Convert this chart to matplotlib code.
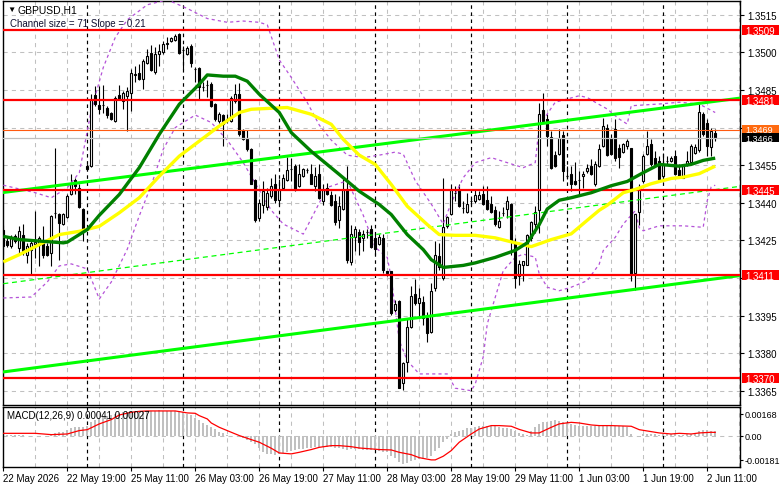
import numpy as np
import matplotlib.pyplot as plt
import matplotlib.transforms as mtransforms
from matplotlib.patches import Rectangle

plt.rcParams['font.family'] = ['Liberation Sans', 'DejaVu Sans']

# ---- H1 candles, bar 0 = 22 May 2026 03:00 ----
open_ = [1.34293, 1.34246, 1.34226, 1.34266, 1.34220, 1.34273, 1.34193, 1.34213, 1.34235, 1.34233,
         1.34240, 1.34226, 1.34200, 1.34358, 1.34356, 1.34316, 1.34342, 1.34433, 1.34489, 1.34460,
         1.34377, 1.34548, 1.34546, 1.34829, 1.34789, 1.34789, 1.34777, 1.34760, 1.34726, 1.34829,
         1.34806, 1.34826, 1.34836, 1.34909, 1.34916, 1.34893, 1.34956, 1.34996, 1.34920, 1.34993,
         1.35000, 1.35035, 1.35046, 1.35049, 1.35073, 1.35009, 1.34993, 1.35026, 1.34933, 1.34936,
         1.34860, 1.34869, 1.34873, 1.34796, 1.34726, 1.34750, 1.34733, 1.34726, 1.34806, 1.34833,
         1.34689, 1.34653, 1.34613, 1.34489, 1.34340, 1.34393, 1.34382, 1.34426, 1.34473, 1.34409,
         1.34457, 1.34489, 1.34533, 1.34546, 1.34466, 1.34506, 1.34530, 1.34516, 1.34466, 1.34516,
         1.34406, 1.34460, 1.34429, 1.34406, 1.34333, 1.34377, 1.34453, 1.34164, 1.34262, 1.34284,
         1.34260, 1.34284, 1.34297, 1.34260, 1.34236, 1.34260, 1.34126, 1.34126, 1.33973, 1.34009,
         1.33680, 1.33764, 1.33906, 1.34036, 1.34000, 1.34004, 1.33940, 1.33884, 1.34060, 1.34186,
         1.34100, 1.34306, 1.34356, 1.34440, 1.34449, 1.34380, 1.34364, 1.34406, 1.34406, 1.34413,
         1.34436, 1.34409, 1.34396, 1.34373, 1.34302, 1.34360, 1.34377, 1.34396, 1.34240, 1.34106,
         1.34153, 1.34153, 1.34260, 1.34316, 1.34373, 1.34769, 1.34736, 1.34662, 1.34590, 1.34593,
         1.34669, 1.34506, 1.34513, 1.34486, 1.34489, 1.34506, 1.34526, 1.34546, 1.34473, 1.34546,
         1.34626, 1.34697, 1.34660, 1.34693, 1.34617, 1.34604, 1.34626, 1.34617, 1.34120, 1.34364,
         1.34486, 1.34596, 1.34636, 1.34577, 1.34566, 1.34506, 1.34566, 1.34566, 1.34586, 1.34532,
         1.34500, 1.34550, 1.34564, 1.34600, 1.34609, 1.34753, 1.34719, 1.34622, 1.34680]
high = [1.34313, 1.34260, 1.34273, 1.34276, 1.34306, 1.34316, 1.34240, 1.34253, 1.34366, 1.34266,
        1.34306, 1.34240, 1.34353, 1.34617, 1.34360, 1.34360, 1.34433, 1.34516, 1.34497, 1.34473,
        1.34380, 1.34553, 1.34833, 1.34866, 1.34866, 1.34870, 1.34786, 1.34764, 1.34826, 1.34869,
        1.34846, 1.34860, 1.34933, 1.34946, 1.34953, 1.34973, 1.35013, 1.35030, 1.35020, 1.35033,
        1.35046, 1.35062, 1.35062, 1.35073, 1.35076, 1.35026, 1.35026, 1.35033, 1.34940, 1.34940,
        1.34880, 1.34889, 1.34880, 1.34800, 1.34764, 1.34756, 1.34753, 1.34826, 1.34873, 1.34876,
        1.34693, 1.34689, 1.34617, 1.34493, 1.34413, 1.34486, 1.34460, 1.34500, 1.34513, 1.34493,
        1.34513, 1.34582, 1.34580, 1.34553, 1.34553, 1.34540, 1.34540, 1.34553, 1.34542, 1.34553,
        1.34473, 1.34480, 1.34446, 1.34433, 1.34426, 1.34493, 1.34546, 1.34313, 1.34306, 1.34297,
        1.34293, 1.34297, 1.34313, 1.34280, 1.34276, 1.34276, 1.34126, 1.34129, 1.34013, 1.34013,
        1.33764, 1.33942, 1.34066, 1.34097, 1.34060, 1.34026, 1.33966, 1.34080, 1.34246, 1.34240,
        1.34497, 1.34346, 1.34473, 1.34466, 1.34473, 1.34406, 1.34440, 1.34420, 1.34453, 1.34446,
        1.34466, 1.34466, 1.34426, 1.34386, 1.34366, 1.34382, 1.34426, 1.34400, 1.34260, 1.34173,
        1.34169, 1.34276, 1.34326, 1.34386, 1.34800, 1.34836, 1.34756, 1.34686, 1.34606, 1.34693,
        1.34686, 1.34546, 1.34546, 1.34564, 1.34526, 1.34526, 1.34553, 1.34573, 1.34566, 1.34633,
        1.34740, 1.34713, 1.34673, 1.34733, 1.34633, 1.34640, 1.34653, 1.34620, 1.34356, 1.34473,
        1.34593, 1.34686, 1.34653, 1.34606, 1.34586, 1.34600, 1.34586, 1.34586, 1.34609, 1.34553,
        1.34553, 1.34606, 1.34633, 1.34633, 1.34796, 1.34764, 1.34733, 1.34700, 1.34693]
low = [1.34193, 1.34222, 1.34220, 1.34240, 1.34193, 1.34193, 1.34160, 1.34113, 1.34180, 1.34146,
       1.34180, 1.34186, 1.34146, 1.34340, 1.34173, 1.34313, 1.34340, 1.34430, 1.34433, 1.34380,
       1.34246, 1.34532, 1.34542, 1.34786, 1.34753, 1.34760, 1.34740, 1.34729, 1.34724, 1.34809,
       1.34773, 1.34686, 1.34766, 1.34880, 1.34889, 1.34853, 1.34953, 1.34926, 1.34913, 1.34946,
       1.34993, 1.35013, 1.35040, 1.35046, 1.34993, 1.34933, 1.34990, 1.34940, 1.34880, 1.34809,
       1.34846, 1.34820, 1.34782, 1.34726, 1.34720, 1.34626, 1.34720, 1.34724, 1.34800, 1.34666,
       1.34649, 1.34606, 1.34473, 1.34324, 1.34326, 1.34360, 1.34373, 1.34420, 1.34400, 1.34393,
       1.34453, 1.34486, 1.34486, 1.34446, 1.34462, 1.34502, 1.34520, 1.34473, 1.34446, 1.34413,
       1.34393, 1.34430, 1.34386, 1.34313, 1.34300, 1.34373, 1.34160, 1.34153, 1.34206, 1.34193,
       1.34206, 1.34260, 1.34220, 1.34193, 1.34233, 1.34120, 1.34106, 1.33953, 1.33966, 1.33660,
       1.33653, 1.33726, 1.33900, 1.33993, 1.33940, 1.33913, 1.33846, 1.33880, 1.34046, 1.34133,
       1.34093, 1.34300, 1.34353, 1.34406, 1.34382, 1.34360, 1.34360, 1.34393, 1.34400, 1.34409,
       1.34393, 1.34373, 1.34360, 1.34306, 1.34300, 1.34346, 1.34340, 1.34193, 1.34060, 1.34073,
       1.34086, 1.34150, 1.34246, 1.34280, 1.34280, 1.34724, 1.34626, 1.34533, 1.34542, 1.34590,
       1.34486, 1.34493, 1.34446, 1.34470, 1.34433, 1.34460, 1.34520, 1.34510, 1.34466, 1.34542,
       1.34622, 1.34586, 1.34590, 1.34566, 1.34540, 1.34600, 1.34613, 1.34086, 1.34053, 1.34313,
       1.34480, 1.34590, 1.34546, 1.34546, 1.34486, 1.34500, 1.34553, 1.34564, 1.34510, 1.34502,
       1.34497, 1.34546, 1.34560, 1.34596, 1.34604, 1.34666, 1.34586, 1.34586, 1.34646]
close = [1.34226, 1.34233, 1.34260, 1.34246, 1.34286, 1.34206, 1.34226, 1.34240, 1.34245, 1.34260,
         1.34193, 1.34193, 1.34346, 1.34360, 1.34320, 1.34356, 1.34426, 1.34473, 1.34466, 1.34382,
         1.34293, 1.34534, 1.34813, 1.34793, 1.34773, 1.34789, 1.34750, 1.34733, 1.34817, 1.34813,
         1.34836, 1.34846, 1.34916, 1.34912, 1.34893, 1.34966, 1.34986, 1.34929, 1.34993, 1.35006,
         1.35033, 1.35036, 1.35057, 1.35066, 1.34996, 1.35009, 1.35017, 1.34956, 1.34933, 1.34860,
         1.34860, 1.34869, 1.34786, 1.34733, 1.34756, 1.34713, 1.34733, 1.34817, 1.34833, 1.34673,
         1.34653, 1.34613, 1.34476, 1.34333, 1.34400, 1.34446, 1.34440, 1.34466, 1.34409, 1.34449,
         1.34497, 1.34529, 1.34533, 1.34453, 1.34516, 1.34533, 1.34530, 1.34476, 1.34506, 1.34417,
         1.34449, 1.34436, 1.34393, 1.34324, 1.34386, 1.34449, 1.34173, 1.34276, 1.34297, 1.34244,
         1.34276, 1.34284, 1.34222, 1.34217, 1.34262, 1.34133, 1.34120, 1.33960, 1.33996, 1.33662,
         1.33760, 1.33906, 1.34026, 1.34000, 1.34020, 1.33942, 1.33880, 1.34046, 1.34193, 1.34142,
         1.34302, 1.34342, 1.34449, 1.34440, 1.34386, 1.34380, 1.34396, 1.34406, 1.34430, 1.34430,
         1.34396, 1.34377, 1.34364, 1.34316, 1.34329, 1.34360, 1.34406, 1.34246, 1.34100, 1.34156,
         1.34166, 1.34273, 1.34324, 1.34364, 1.34756, 1.34726, 1.34666, 1.34537, 1.34546, 1.34657,
         1.34526, 1.34506, 1.34476, 1.34473, 1.34489, 1.34516, 1.34537, 1.34513, 1.34556, 1.34613,
         1.34706, 1.34590, 1.34593, 1.34577, 1.34582, 1.34636, 1.34646, 1.34116, 1.34356, 1.34462,
         1.34586, 1.34626, 1.34553, 1.34553, 1.34493, 1.34553, 1.34566, 1.34577, 1.34513, 1.34506,
         1.34546, 1.34566, 1.34626, 1.34622, 1.34764, 1.34673, 1.34626, 1.34686, 1.34660]

# moving averages (bar index, price)
ma_green_bars = [0, 4, 10, 15, 16, 19, 21, 24, 29, 34, 39, 44, 49, 51, 55, 58, 61, 64, 69, 72, 77, 84,
                 89, 94, 97, 101, 105, 107, 110, 115, 118, 123, 128, 131, 134, 136, 139, 142, 147,
                 152, 156, 160, 164, 169, 172, 175, 178]
ma_green = [1.34266, 1.34253, 1.34246, 1.34240, 1.34243, 1.34273, 1.34293, 1.34350, 1.34433, 1.34540,
            1.34673, 1.34793, 1.34873, 1.34910, 1.34905, 1.34905, 1.34885, 1.34833, 1.34760, 1.34680,
            1.34605, 1.34513, 1.34446, 1.34393, 1.34353, 1.34273, 1.34213, 1.34173, 1.34142, 1.34150,
            1.34160, 1.34182, 1.34210, 1.34240, 1.34313, 1.34375, 1.34410, 1.34420, 1.34440, 1.34468,
            1.34485, 1.34520, 1.34553, 1.34546, 1.34553, 1.34569, 1.34578]
ma_yellow_bars = [0, 4, 9, 14, 19, 24, 29, 34, 39, 44, 49, 54, 59, 62, 67, 71, 77, 82, 85, 89, 93,
                  97, 101, 106, 109, 113, 118, 123, 128, 132, 137, 142, 146, 149, 151, 155, 158, 162,
                  167, 170, 174, 178]
ma_yellow = [1.34164, 1.34193, 1.34233, 1.34273, 1.34286, 1.34306, 1.34360, 1.34420, 1.34506, 1.34586,
             1.34646, 1.34706, 1.34760, 1.34773, 1.34777, 1.34780, 1.34753, 1.34713, 1.34653, 1.34590,
             1.34553, 1.34473, 1.34386, 1.34313, 1.34273, 1.34270, 1.34270, 1.34260, 1.34240, 1.34225,
             1.34253, 1.34276, 1.34330, 1.34370, 1.34390, 1.34440, 1.34453, 1.34476, 1.34497, 1.34502,
             1.34516, 1.34546]

# bands (purple dotted)
band_up_bars = [0, 4, 8, 12, 16, 19, 22, 25, 28, 31, 36, 41, 46, 51, 56, 60, 64, 66, 69, 72, 76, 79,
                82, 86, 90, 94, 98, 100, 103, 107, 110, 112, 115, 118, 122, 126, 130, 133, 134, 138,
                141, 144, 146, 148, 151, 154, 156, 157, 164, 169, 174, 178]
band_up = [1.34470, 1.34455, 1.34440, 1.34420, 1.34460, 1.34520, 1.34770, 1.34940, 1.35060, 1.35130,
           1.35190, 1.35210, 1.35175, 1.35135, 1.35120, 1.35125, 1.35120, 1.35110, 1.34970, 1.34900,
           1.34800, 1.34710, 1.34650, 1.34590, 1.34580, 1.34590, 1.34602, 1.34594, 1.34488, 1.34395,
           1.34315, 1.34400, 1.34500, 1.34560, 1.34580, 1.34560, 1.34540, 1.34560, 1.34707, 1.34801,
           1.34814, 1.34827, 1.34820, 1.34801, 1.34774, 1.34734, 1.34714, 1.34787, 1.34794, 1.34801,
           1.34794, 1.34760]
band_dn_bars = [0, 7, 11, 14, 17, 21, 24, 27, 31, 34, 37, 40, 43, 48, 52, 56, 60, 64, 67, 70, 75,
                78, 81, 86, 90, 93, 96, 97, 99, 101, 104, 111, 113, 117, 118, 120, 121, 124, 125, 128,
                130, 133, 134, 136, 139, 142, 146, 149, 150, 153, 155, 158, 159, 160, 164, 170, 175,
                176, 177, 178]
band_dn = [1.34020, 1.34024, 1.34084, 1.34148, 1.34156, 1.34136, 1.34016, 1.34084, 1.34215, 1.34348,
           1.34470, 1.34614, 1.34700, 1.34750, 1.34720, 1.34650, 1.34560, 1.34450, 1.34370, 1.34315,
           1.34275, 1.34368, 1.34461, 1.34488, 1.34350, 1.34222, 1.34182, 1.34100, 1.33850, 1.33770,
           1.33717, 1.33717, 1.33660, 1.33650, 1.33677, 1.33785, 1.33916, 1.34076, 1.34129, 1.34182,
           1.34195, 1.34183, 1.34116, 1.34063, 1.34049, 1.34063, 1.34089, 1.34155, 1.34209, 1.34262,
           1.34315, 1.34368, 1.34300, 1.34288, 1.34308, 1.34308, 1.34302, 1.34408, 1.34463, 1.34470]

# regression channel (bar index at both ends, price)
chan_bars = [0, 184]
chan_upper = [1.34441, 1.34817]
chan_mid = [1.34077, 1.34465]
chan_lower = [1.33725, 1.34109]

levels = [1.3509, 1.3481, 1.3445, 1.3411, 1.3370]
ask_price = 1.3469
bid_price = 1.3466

price_ticks = [1.3515, 1.3500, 1.3485, 1.3470, 1.3455, 1.3440, 1.3425, 1.3410, 1.3395, 1.3380, 1.3365]
hidden_ticks = [1.3470, 1.3410]  # covered by the level boxes on the price scale

time_bars = [0, 16, 32, 48, 64, 80, 96, 112, 128, 144, 160, 176]
time_labels = ['22 May 2026', '22 May 19:00', '25 May 11:00', '26 May 03:00', '26 May 19:00',
               '27 May 11:00', '28 May 03:00', '28 May 19:00', '29 May 11:00', '1 Jun 03:00',
               '1 Jun 19:00', '2 Jun 11:00']
day_start_bars = [21, 45, 69, 93, 117, 141, 165]

# MACD(12,26,9) histogram and signal
macd_main = [0.00012, 0.0001, 0.0001, 0.00008, 0.0001, 0.00006, 0.0, -0.00003, 0.0, 0.00002,
             -0.00002, -0.00005, 0.00005,
             0.00023, 0.00028, 0.00033, 0.00048, 0.00064, 0.00069, 0.00069, 0.00066, 0.00074,
             0.00104, 0.00125, 0.0014, 0.0015, 0.00155, 0.0016, 0.00168, 0.00176, 0.00181, 0.00181, 0.00186,
             0.00189, 0.0019, 0.00191, 0.00193, 0.00194, 0.00193, 0.00195, 0.00194, 0.00193, 0.00192, 0.0019,
             0.00186, 0.0018, 0.00168, 0.0016, 0.00135, 0.0012, 0.00099, 0.00086, 0.00066, 0.00055,
             0.00033, 0.00022, 0.00008, 0.00003, -0.00003, -0.0001, -0.00018, -0.0003, -0.00043, -0.00064,
             -0.0009, -0.00125, -0.00137, -0.0014, -0.00145, -0.0014, -0.0013, -0.0012, -0.00112, -0.0011,
             -0.00099, -0.00097, -0.00094, -0.0009, -0.00087, -0.00087, -0.00087, -0.00088, -0.00087, -0.0009,
             -0.00094, -0.00097, -0.00104, -0.00102, -0.00099, -0.001, -0.00104, -0.00104, -0.00104, -0.0011,
             -0.00112, -0.0012, -0.00125,
             -0.0015, -0.0017, -0.00201, -0.00214, -0.00206, -0.00188, -0.00183, -0.00176, -0.00173,
             -0.00171, -0.0015, -0.00112, -0.0009, -0.00048, -0.00023,
             0.00015, 0.00033, 0.00041, 0.00048, 0.00058, 0.00064, 0.00071, 0.00074, 0.00079, 0.00079,
             0.00079, 0.00074, 0.00066, 0.00061, 0.00058, 0.0005, 0.00041, 0.00025, 0.00012, 0.0001,
             0.00041, 0.00066, 0.00092, 0.00104, 0.00109, 0.00117, 0.00122, 0.00117, 0.00109, 0.00099,
             0.00092, 0.00084, 0.00079, 0.00079, 0.00076, 0.00076, 0.00079, 0.00079, 0.00079, 0.00079,
             0.00079, 0.00076, 0.00074, 0.00074, 0.00066,
             0.00015, -0.00003, 0.00003, 0.00015, 0.00018, 0.00015, 0.00012, 0.0001, 0.00012, 0.00015,
             0.00015, 0.00012, 0.0001, 0.0001, 0.00012, 0.00015, 0.00023, 0.00041, 0.00048, 0.00048,
             0.00041, 0.00041]
signal_bars = [0, 8, 12, 16, 19, 21, 24, 27, 29, 32, 34, 36, 43, 46, 48, 49, 51, 52, 54, 57, 59, 62,
               64, 67, 69, 72, 74, 77, 79, 82, 84, 87, 89, 92, 94, 97, 99, 102, 104, 107, 108, 110,
               112, 114, 117, 119, 122, 124, 127, 129, 132, 134, 137, 139, 142, 144, 147, 149, 152,
               157, 159, 162, 164, 167, 169, 172, 174, 177, 178]
signal = [0.0002, 0.0002, 0.0001, 0.00015, 0.00041, 0.00048, 0.00092, 0.00125, 0.0016, 0.00181,
          0.00188, 0.00191, 0.00191, 0.00176, 0.00173, 0.00155, 0.0013, 0.00099, 0.00066, 0.00028,
          0.00003, -0.00028, -0.00048, -0.00094, -0.0013, -0.00137, -0.00125, -0.00104, -0.00087,
          -0.00074, -0.00074, -0.00082, -0.00092, -0.00099, -0.00104, -0.00107, -0.00125, -0.00143,
          -0.00166, -0.00183, -0.00183, -0.00155, -0.00112, -0.00048, 0.00015, 0.00053, 0.00079,
          0.00079, 0.00074, 0.0005, 0.00023, 0.00023, 0.00066, 0.00092, 0.00104, 0.00099, 0.00084,
          0.00079, 0.00079, 0.00074, 0.00048, 0.00033, 0.00023, 0.00015, 0.0002, 0.00015, 0.00023,
          0.00028, 0.00027]
macd_ticks = [0.00168, 0.0, -0.00181]
macd_tick_labels = ['0.00168', '0.00', '-0.00181']

W, H = 781, 489
fig = plt.figure(figsize=(W / 100, H / 100), dpi=100)
ax = fig.add_axes([3 / W, 1 - 405.5 / H, 737 / W, 403.5 / H])
axm = fig.add_axes([3 / W, 1 - 467.7 / H, 737 / W, 60.2 / H])

grid_kw = dict(color='#c0c0c0', lw=0.75, ls=(0, (4, 4)), zorder=0.5)
sep_kw = dict(color='black', lw=0.85, ls=(0, (3, 3)), zorder=0.6)
for a in (ax, axm):
    a.set_xlim(-0.08, 184.2)
    for b in range(8, 185, 8):
        a.axvline(b, **grid_kw)
    for b in day_start_bars:
        a.axvline(b, **sep_kw)
    for s in a.spines.values():
        s.set_linewidth(1.0)

ax.set_ylim(1.33595, 1.35205)
for p in price_ticks:
    ax.axhline(p, **grid_kw)

x = np.arange(len(close))
o = np.array(open_)
c = np.array(close)
body_col = np.where(c >= o, 'white', 'black')
ax.vlines(x, low, high, color='black', lw=0.8, zorder=3)
ax.bar(x, np.maximum(np.abs(c - o), 0.000008), bottom=np.minimum(o, c), width=0.5,
       color=body_col, edgecolor='black', lw=0.8, zorder=4)

band_kw = dict(color='#b452d8', lw=0.9, ls=(0, (2.5, 2.5)), zorder=3.5)
ax.plot(band_up_bars, band_up, **band_kw)
ax.plot(band_dn_bars, band_dn, **band_kw)

ax.plot(chan_bars, chan_upper, color='#00ff00', lw=2.2, zorder=5)
ax.plot(chan_bars, chan_lower, color='#00ff00', lw=2.2, zorder=5)
ax.plot(chan_bars, chan_mid, color='#00ff00', lw=0.9, ls=(0, (4, 3)), zorder=5)

for lv in levels:
    ax.axhline(lv, color='#ff0000', lw=1.6, zorder=5.5)
ax.axhline(ask_price, color='#ff5a10', lw=0.8, zorder=5.5)
ax.axhline(bid_price, color='#c0c0c0', lw=0.9, zorder=5.5)

ax.plot(ma_yellow_bars, ma_yellow, color='#ffff00', lw=2.4, zorder=6, solid_capstyle='butt')
ax.plot(ma_green_bars, ma_green, color='#008000', lw=2.4, zorder=6.5, solid_capstyle='butt')

# price axis
ax.yaxis.tick_right()
ax.set_yticks(price_ticks)
ax.set_yticklabels(['' if p in hidden_ticks else f'{p:.4f}' for p in price_ticks])
ax.tick_params(axis='y', length=3, width=0.8, pad=2, labelsize=7)
ax.set_xticks([])

trans = mtransforms.blended_transform_factory(ax.transAxes, ax.transData)
box_x0, box_w = 1 + 1.5 / 737, 37 / 737
text_x = 1 + 5 / 737


def price_box(price, face, top, bottom, size=7):
    ax.add_patch(Rectangle((box_x0, bottom), box_w, top - bottom, transform=trans,
                           facecolor=face, edgecolor='none', clip_on=False, zorder=9))
    ax.text(text_x, (top + bottom) / 2, f'{price:.4f}', transform=trans, ha='left',
            va='center_baseline', fontsize=size, color='white', zorder=10, clip_on=False)


for lv in levels:
    price_box(lv, '#ff0000', lv + 0.0002, lv - 0.0002)
# ask / bid boxes sit next to each other on the scale
price_box(ask_price, '#ff6a10', 1.34711, 1.34678, size=6.5)
price_box(bid_price, 'black', 1.34678, 1.34642, size=6.5)

# MACD panel
axm.set_ylim(-0.00235, 0.00225)
axm.axhline(0, **grid_kw)
axm.bar(np.arange(len(macd_main)), macd_main, width=0.55, color='#c0c0c0', lw=0, zorder=2)
axm.plot(signal_bars, signal, color='#ff0000', lw=0.9, zorder=3)
axm.yaxis.tick_right()
axm.set_yticks(macd_ticks)
axm.set_yticklabels(macd_tick_labels)
axm.tick_params(axis='y', length=2, width=0.8, pad=1, labelsize=6.5)
axm.set_xticks(time_bars)
axm.set_xticklabels(time_labels)
axm.tick_params(axis='x', length=3, width=0.8, pad=1.5, labelsize=7)
for lbl in axm.get_xticklabels():
    lbl.set_ha('left')

fig.text(7 / W, 1 - 10.5 / H, '\u25bc', fontsize=6, va='center', ha='left')
fig.text(18 / W, 1 - 10.5 / H, 'GBPUSD,H1', fontsize=7.5, va='center', ha='left')
fig.text(10 / W, 1 - 24 / H, 'Channel size = 71 Slope = 0.21', fontsize=7, va='center', ha='left',
         color='#101030')
fig.text(7 / W, 1 - 416 / H, 'MACD(12,26,9) 0.00041 0.00027', fontsize=7, va='center', ha='left')

fig.savefig('out.png', dpi=100, facecolor='white')
